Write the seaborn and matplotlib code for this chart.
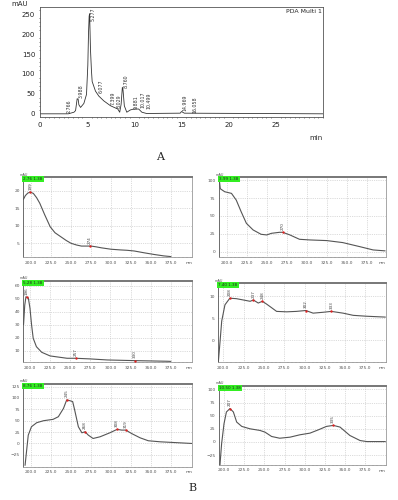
import numpy as np
import pandas as pd
import seaborn as sns
import matplotlib.pyplot as plt
from matplotlib.ticker import MultipleLocator

sns.set_style("white")
plt.rcParams['font.family'] = ['DejaVu Sans']

# ---- A: HPLC chromatogram ----
rt_min = [0, 3.0, 3.24, 3.6, 3.77, 3.94, 4.05, 4.12, 4.3, 4.65, 4.93, 5.07, 5.14, 5.21, 5.26, 5.35,
          5.45, 5.53, 5.88, 6.23, 6.76, 7.47, 8.0, 8.24, 8.45, 8.6, 8.73, 8.8, 8.94, 9.2, 9.58,
          9.93, 10.46, 10.8, 11.3, 14.86, 15.0, 15.3, 30]
mau = [0, 0, 1.6, 4, 8, 38, 36, 22.7, 16, 26, 48.7, 122, 200, 245, 251, 162,
       110, 81, 57, 44.6, 32.5, 20.3, 14.6, 12.2, 4, 24, 66.6, 60, 20, 4, 9.7,
       12, 12, 4, 0.8, 1.6, 5.7, 1.6, 0]
peak_rt = [2.766, 3.988, 5.277, 6.077, 7.399, 8.029, 8.760, 9.881, 10.017, 10.499, 14.969, 16.058]

# ---- B: UV spectra (nm vs mAU) ----
b1_nm = [190.5, 193, 196, 199, 203, 207, 211, 217, 224, 230, 237, 244, 250, 257, 263, 270, 275,
         281, 288, 300, 312, 320, 329, 341, 354, 366, 375]
b1_au = [17.5, 18.6, 19.3, 19.6, 19.2, 18.0, 16.4, 13.2, 9.7, 8.0, 6.9, 5.8, 5.0, 4.5, 4.2, 4.2, 4.2,
         4.0, 3.7, 3.3, 3.1, 3.0, 2.8, 2.3, 1.8, 1.4, 1.2]
b1_pk = [199, 274]

b2_nm = [190.5, 192, 197.5, 206, 212, 218, 224.6, 233, 243, 250, 256, 266, 270, 279, 291, 304,
         325, 345, 366, 383, 398]
b2_au = [103, 88, 83.8, 81.5, 72, 56, 39.6, 30.3, 24.2, 23.3, 25.6, 27, 27, 23.3, 17.2, 16.3,
         15.4, 12.6, 7, 2.3, 1]
b2_pk = [270]

b3_nm = [192, 193.5, 195, 198, 200, 202, 204, 208, 214.6, 225, 246, 256.7, 275, 296, 329, 371, 375]
b3_au = [30, 45, 51.5, 50.3, 42.6, 29.7, 19.5, 13, 8.7, 5.9, 4.1, 4.1, 3.6, 2.8, 2.3, 1.8, 1.7]
b3_pk = [196, 257, 330]

b4_nm = [193.9, 196, 198, 202, 208, 216, 224.6, 233, 237, 243, 248, 253, 259, 265.6, 278, 290,
         301.6, 310.6, 323, 333, 347.5, 360, 376, 399.6]
b4_au = [-4.8, -0.15, 4.4, 8.1, 9.6, 9.5, 9.2, 8.9, 9.2, 8.5, 8.9, 8.3, 7.5, 6.6, 6.5, 6.6,
         6.8, 6.2, 6.4, 6.6, 6.2, 5.7, 5.5, 5.3]
b4_pk = [208, 237, 248, 302, 333]

b5_nm = [193, 195, 197, 201, 207.5, 216, 228, 234.6, 241, 245, 249, 252.5, 255, 259.6, 264, 268,
         272, 278, 286.7, 299, 308, 313.75, 319, 326, 336.7, 347, 361.7, 402]
b5_au = [-48, -14.7, 18.4, 36.8, 45.6, 50, 53, 58.8, 77, 95.6, 94, 92, 73.5, 36.8, 23.5, 25.7,
         18.4, 11, 14.7, 23.5, 31, 29.4, 29.4, 22, 12.5, 6, 3.7, 0]
b5_pk = [245, 268, 308, 319]

b6_nm = [195, 197, 200, 203, 207.4, 211.6, 215.7, 222, 232, 244.6, 250.8, 259, 269, 281.8, 294,
         306.6, 317, 327, 335.5, 343.8, 356, 368.6, 377, 400]
b6_au = [-44, -4, 34.6, 57, 63.5, 57, 37.8, 29.5, 25, 21.8, 18.6, 10.3, 7, 9, 13.5,
         16.7, 23, 29.5, 31.4, 28.2, 12.2, 2.6, 0.6, 0.6]
b6_pk = [207, 335]

b_tags = ["2.76 1.38", "3.99 1.38", "5.28 1.38", "7.40 1.38", "8.76 1.38", "10.50 1.38"]

W, H = 398, 500


def px_axes(fig, left, top, right, bottom):
    return fig.add_axes([left / W, 1 - bottom / H, (right - left) / W, (bottom - top) / H])


fig = plt.figure(figsize=(W / 100, H / 100), dpi=100)

# chromatogram
ax = px_axes(fig, 40, 7, 323, 117)
chrom = pd.DataFrame({"t": rt_min, "mAU": mau})
sns.lineplot(data=chrom, x="t", y="mAU", ax=ax, color="#333333", lw=0.6)
ax.set_xlim(0, 30)
ax.set_ylim(-8, 268)
ax.set_xticks([0, 5, 10, 15, 20, 25])
ax.set_yticks([0, 50, 100, 150, 200, 250])
ax.xaxis.set_minor_locator(MultipleLocator(0.5))
ax.yaxis.set_minor_locator(MultipleLocator(10))
ax.tick_params(labelsize=5, length=2, width=0.5, pad=1.5, colors="#222222")
ax.tick_params(which="minor", length=1, width=0.4, bottom=True, left=True)
ax.set_xlabel("")
ax.set_ylabel("")
for s in ax.spines.values():
    s.set_linewidth(0.6)
    s.set_color("#555555")
ax.text(-0.1, 1.0, "mAU", transform=ax.transAxes, fontsize=5, ha="left", va="bottom")
ax.text(1.0, -0.16, "min", transform=ax.transAxes, fontsize=5, ha="right", va="top")
ax.text(0.995, 0.985, "PDA Multi 1", transform=ax.transAxes, fontsize=4.5, ha="right", va="top")
# crowded labels around 10 min are spread a little so they stay readable
lbl_shift = {9.881: -0.05, 10.017: 0.55, 10.499: 0.75}
for r in peak_rt:
    h = min(np.interp(r, rt_min, mau), 232) + 1.5
    ax.text(r + 0.35 + lbl_shift.get(r, 0), h, f"{r:.3f}", rotation=90, fontsize=3.4,
            ha="center", va="bottom", color="#333333")
fig.text(160 / W, 1 - 157 / H, "A", fontsize=8, family="DejaVu Serif", ha="center", va="center")

# spectra panels
boxes = [(23.3, 177.3, 192.3, 257.3), (219, 177.3, 385.7, 257.3),
         (23.3, 281, 192.3, 362.3), (218.3, 283.3, 385.7, 362.3),
         (23.3, 384.3, 192.3, 466.7), (219, 385.7, 385.7, 465)]
spectra = [(b1_nm, b1_au, b1_pk), (b2_nm, b2_au, b2_pk), (b3_nm, b3_au, b3_pk),
           (b4_nm, b4_au, b4_pk), (b5_nm, b5_au, b5_pk), (b6_nm, b6_au, b6_pk)]
xlims = [(190.4, 401.6), (190.4, 398.7), (191.7, 401.6), (193.8, 400), (190.8, 402), (193.8, 400.4)]
ylims = [(1.0, 23.8), (-8, 104), (1.0, 63.6), (-5, 13), (-51, 130), (-44, 107)]
ytks = [[5, 10, 15, 20], [0, 25, 50, 75, 100], [10, 20, 30, 40, 50, 60], [0, 5, 10],
        [-25, 0, 25, 50, 75, 100, 125], [-25, 0, 25, 50, 75, 100]]

for i, (box, (nm, au, pk)) in enumerate(zip(boxes, spectra)):
    ax = px_axes(fig, *box)
    df = pd.DataFrame({"nm": nm, "mAU": au})
    sns.lineplot(data=df, x="nm", y="mAU", ax=ax, color="#555555", lw=0.8)
    pk_val = np.interp(pk, nm, au)
    sns.scatterplot(x=pk, y=pk_val, ax=ax, color="#dd2222", s=3, linewidth=0, zorder=5)
    span = ylims[i][1] - ylims[i][0]
    for p, v in zip(pk, pk_val):
        ax.text(p, v + 0.03 * span, str(p), rotation=90, fontsize=3, ha="center", va="bottom",
                color="#444444")
    ax.set_xlim(*xlims[i])
    ax.set_ylim(*ylims[i])
    ax.set_xticks([200, 225, 250, 275, 300, 325, 350, 375])
    ax.set_xticklabels([f"{t:.1f}" for t in [200, 225, 250, 275, 300, 325, 350, 375]])
    ax.set_yticks(ytks[i])
    ax.xaxis.set_minor_locator(MultipleLocator(5))
    ax.grid(True, ls=":", lw=0.5, color="#bbbbbb")
    ax.tick_params(labelsize=3.2, length=1.5, width=0.4, pad=1, colors="#555555")
    ax.tick_params(which="minor", length=1, width=0.3, bottom=True)
    ax.set_xlabel("")
    ax.set_ylabel("")
    for s in ax.spines.values():
        s.set_linewidth(0.6)
        s.set_color("#999999")
    ax.spines["top"].set_linewidth(1.4)
    ax.spines["top"].set_color("#777777")
    ax.spines["left"].set_color("#555555")
    ax.text(0.0, 1.0, b_tags[i], transform=ax.transAxes, fontsize=3, ha="left", va="top",
            bbox=dict(facecolor="#33ee22", edgecolor="none", pad=0.8), zorder=6)
    ax.text(-0.02, 1.01, "mAU", transform=ax.transAxes, fontsize=2.5, ha="left", va="bottom",
            color="#555555")
    ax.text(1.0, -0.045, "nm", transform=ax.transAxes, fontsize=3.2, ha="right", va="top",
            color="#555555")

fig.text(192 / W, 1 - 488 / H, "B", fontsize=8, family="DejaVu Serif", ha="center", va="center")

fig.savefig("out.png", dpi=100)
